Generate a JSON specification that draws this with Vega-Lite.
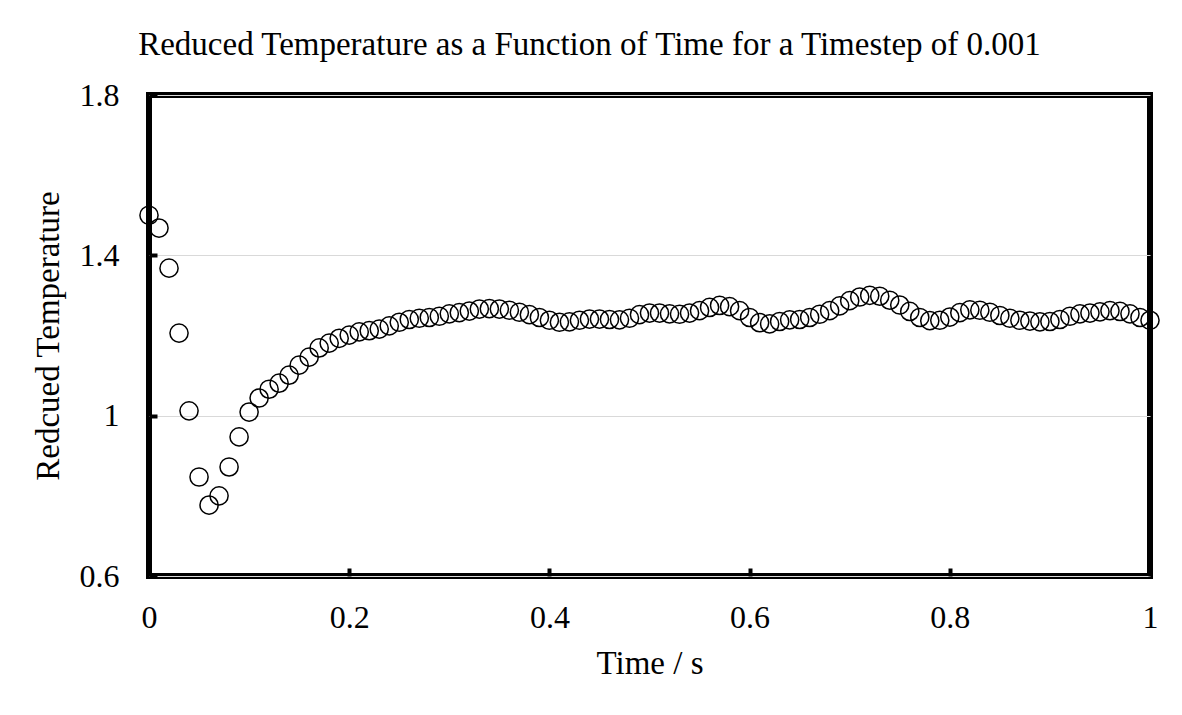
{
  "$schema": "https://vega.github.io/schema/vega-lite/v6.json",
  "autosize": {"type": "none"},
  "padding": {"left": 149, "top": 95, "right": 32, "bottom": 139},
  "width": 1001,
  "height": 481,
  "background": "white",
  "title": {
    "text": "Reduced Temperature as a Function of Time for a Timestep of 0.001",
    "font": "Liberation Serif",
    "fontSize": 33,
    "fontWeight": "normal",
    "color": "black",
    "anchor": "middle",
    "frame": "group",
    "baseline": "alphabetic",
    "offset": -9,
    "dx": -60
  },
  "config": {
    "view": {"stroke": "black", "strokeWidth": 6},
    "axis": {
      "labelFont": "Liberation Serif",
      "titleFont": "Liberation Serif",
      "labelColor": "black",
      "titleColor": "black",
      "titleFontWeight": "normal",
      "labelFontSize": 32,
      "titleFontSize": 33,
      "domain": false,
      "tickColor": "black",
      "tickWidth": 4,
      "tickSize": -8,
      "gridColor": "#d9d9d9",
      "gridWidth": 1.2
    }
  },
  "data": {
    "values": [
      {"t": 0.00, "T": 1.500}, {"t": 0.01, "T": 1.468}, {"t": 0.02, "T": 1.368}, {"t": 0.03, "T": 1.206},
      {"t": 0.04, "T": 1.012}, {"t": 0.05, "T": 0.847}, {"t": 0.06, "T": 0.777}, {"t": 0.07, "T": 0.800},
      {"t": 0.08, "T": 0.872}, {"t": 0.09, "T": 0.947}, {"t": 0.10, "T": 1.009}, {"t": 0.11, "T": 1.044},
      {"t": 0.12, "T": 1.066}, {"t": 0.13, "T": 1.081}, {"t": 0.14, "T": 1.101}, {"t": 0.15, "T": 1.126},
      {"t": 0.16, "T": 1.146}, {"t": 0.17, "T": 1.169}, {"t": 0.18, "T": 1.181}, {"t": 0.19, "T": 1.193},
      {"t": 0.20, "T": 1.201}, {"t": 0.21, "T": 1.209}, {"t": 0.22, "T": 1.212}, {"t": 0.23, "T": 1.216},
      {"t": 0.24, "T": 1.224}, {"t": 0.25, "T": 1.233}, {"t": 0.26, "T": 1.240}, {"t": 0.27, "T": 1.243},
      {"t": 0.28, "T": 1.245}, {"t": 0.29, "T": 1.248}, {"t": 0.30, "T": 1.254}, {"t": 0.31, "T": 1.257},
      {"t": 0.32, "T": 1.261}, {"t": 0.33, "T": 1.266}, {"t": 0.34, "T": 1.267}, {"t": 0.35, "T": 1.266},
      {"t": 0.36, "T": 1.263}, {"t": 0.37, "T": 1.258}, {"t": 0.38, "T": 1.252}, {"t": 0.39, "T": 1.245},
      {"t": 0.40, "T": 1.238}, {"t": 0.41, "T": 1.233}, {"t": 0.42, "T": 1.234}, {"t": 0.43, "T": 1.238},
      {"t": 0.44, "T": 1.241}, {"t": 0.45, "T": 1.241}, {"t": 0.46, "T": 1.240}, {"t": 0.47, "T": 1.239},
      {"t": 0.48, "T": 1.243}, {"t": 0.49, "T": 1.252}, {"t": 0.50, "T": 1.256}, {"t": 0.51, "T": 1.256},
      {"t": 0.52, "T": 1.254}, {"t": 0.53, "T": 1.253}, {"t": 0.54, "T": 1.256}, {"t": 0.55, "T": 1.262},
      {"t": 0.56, "T": 1.270}, {"t": 0.57, "T": 1.275}, {"t": 0.58, "T": 1.272}, {"t": 0.59, "T": 1.262},
      {"t": 0.60, "T": 1.245}, {"t": 0.61, "T": 1.232}, {"t": 0.62, "T": 1.229}, {"t": 0.63, "T": 1.235},
      {"t": 0.64, "T": 1.239}, {"t": 0.65, "T": 1.240}, {"t": 0.66, "T": 1.245}, {"t": 0.67, "T": 1.253},
      {"t": 0.68, "T": 1.262}, {"t": 0.69, "T": 1.274}, {"t": 0.70, "T": 1.287}, {"t": 0.71, "T": 1.296},
      {"t": 0.72, "T": 1.300}, {"t": 0.73, "T": 1.298}, {"t": 0.74, "T": 1.288}, {"t": 0.75, "T": 1.276},
      {"t": 0.76, "T": 1.260}, {"t": 0.77, "T": 1.245}, {"t": 0.78, "T": 1.237}, {"t": 0.79, "T": 1.238},
      {"t": 0.80, "T": 1.246}, {"t": 0.81, "T": 1.257}, {"t": 0.82, "T": 1.264}, {"t": 0.83, "T": 1.263},
      {"t": 0.84, "T": 1.258}, {"t": 0.85, "T": 1.250}, {"t": 0.86, "T": 1.243}, {"t": 0.87, "T": 1.238},
      {"t": 0.88, "T": 1.236}, {"t": 0.89, "T": 1.234}, {"t": 0.90, "T": 1.235}, {"t": 0.91, "T": 1.240},
      {"t": 0.92, "T": 1.248}, {"t": 0.93, "T": 1.254}, {"t": 0.94, "T": 1.256}, {"t": 0.95, "T": 1.259},
      {"t": 0.96, "T": 1.262}, {"t": 0.97, "T": 1.260}, {"t": 0.98, "T": 1.254}, {"t": 0.99, "T": 1.245},
      {"t": 1.00, "T": 1.238}
    ]
  },
  "mark": {"type": "point", "shape": "circle", "filled": false, "stroke": "black", "strokeWidth": 1.5, "size": 330, "opacity": 1},
  "encoding": {
    "x": {
      "field": "t", "type": "quantitative",
      "scale": {"domain": [0, 1], "nice": false, "zero": false},
      "axis": {"title": "Time / s", "values": [0, 0.2, 0.4, 0.6, 0.8, 1], "format": "~g", "grid": false, "labelPadding": 34, "titlePadding": 14, "labelFlush": false}
    },
    "y": {
      "field": "T", "type": "quantitative",
      "scale": {"domain": [0.6, 1.8], "nice": false, "zero": false},
      "axis": {"title": "Redcued Temperature", "values": [0.6, 1.0, 1.4, 1.8], "format": "~g", "grid": true, "labelPadding": 38, "titlePadding": 14, "labelFlush": false}
    }
  }
}
